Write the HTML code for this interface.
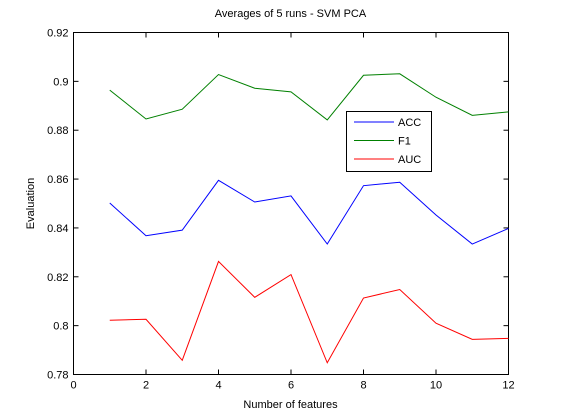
<!DOCTYPE html>
<html><head><meta charset="utf-8"><style>
html,body{margin:0;padding:0;background:#fff;width:561px;height:420px;overflow:hidden}
svg{display:block;font-family:"Liberation Sans",Arial,sans-serif}
</style></head><body>
<svg id="chart" width="561" height="420">
<rect x="0" y="0" width="561" height="420" fill="#fff"/>
<text x="290.5" y="17" font-size="11" text-anchor="middle">Averages of 5 runs - SVM PCA</text>
<text x="290.5" y="408" font-size="11" text-anchor="middle">Number of features</text>
<text transform="translate(34,203.5) rotate(-90)" font-size="11" text-anchor="middle">Evaluation</text>
<g id="axes"></g>
<g id="series"></g>
<g id="legend"></g>
</svg>
<script>
const features = [1,2,3,4,5,6,7,8,9,10,11,12];
const accValues = [0.8502,0.8368,0.8391,0.8595,0.8506,0.8531,0.8334,0.8573,0.8587,0.8453,0.8334,0.8398];
const f1Values = [0.8022,0.8026,0.7858,0.8263,0.8116,0.8209,0.7848,0.8113,0.8148,0.8010,0.7944,0.7948];
const aucValues = [0.8964,0.8846,0.8886,0.9028,0.8972,0.8957,0.8842,0.9025,0.9031,0.8935,0.8861,0.8875];
const xTicks = [0,2,4,6,8,10,12];
const yTicks = [0.78,0.8,0.82,0.84,0.86,0.88,0.9,0.92];
const yTickLabels = ["0.78","0.8","0.82","0.84","0.86","0.88","0.9","0.92"];

const L=73.5,R=508.5,T=32.5,B=374.5;
const xs=v=>L+(v-0)/(12-0)*(R-L);
const ys=v=>B-(v-0.78)/(0.92-0.78)*(B-T);
const NS="http://www.w3.org/2000/svg";
function mk(tag,attrs,parent){const e=document.createElementNS(NS,tag);for(const k in attrs)e.setAttribute(k,attrs[k]);parent.appendChild(e);return e;}
const axes=document.getElementById('axes');
const frame=mk('rect',{x:L,y:T,width:R-L,height:B-T,fill:'none',stroke:'#000','stroke-width':1},axes);


xTicks.forEach(t=>{
  const x=xs(t);
  mk('line',{x1:x,y1:B,x2:x,y2:B-5,stroke:'#000'},axes);
  mk('line',{x1:x,y1:T,x2:x,y2:T+5,stroke:'#000'},axes);
  const tx=mk('text',{x:x,y:B+14,'font-size':11,'text-anchor':'middle'},axes);
  tx.textContent=t;
  
  
});
yTicks.forEach((t,i)=>{
  const y=ys(t);
  mk('line',{x1:L,y1:y,x2:L+5,y2:y,stroke:'#000'},axes);
  mk('line',{x1:R,y1:y,x2:R-5,y2:y,stroke:'#000'},axes);
  const tx=mk('text',{x:L-5,y:y+4,'font-size':11,'text-anchor':'end'},axes);
  tx.textContent=yTickLabels[i];
  
  
});
const series=document.getElementById('series');
[[accValues,'#0000ff','acc-line'],[f1Values,'#ff0000','f1-line'],[aucValues,'#008000','auc-line']].forEach(([vals,c,n])=>{
  const p=mk('polyline',{points:vals.map((v,i)=>xs(features[i])+','+ys(v)).join(' '),fill:'none',stroke:c,'stroke-width':1},series);
  
  
});
const lg=document.getElementById('legend');
mk('rect',{x:346.5,y:111.5,width:85,height:60,fill:'#fff',stroke:'#000'},lg);
[['ACC','#0000ff'],['F1','#008000'],['AUC','#ff0000']].forEach(([lab,c],i)=>{
  const y=122+i*18.5;
  const ln=mk('line',{x1:354,y1:y,x2:394,y2:y,stroke:c},lg);
  
  
  const tx=mk('text',{x:398,y:y+4,'font-size':11},lg);
  tx.textContent=lab;
  
  
});
</script>
</body></html>
